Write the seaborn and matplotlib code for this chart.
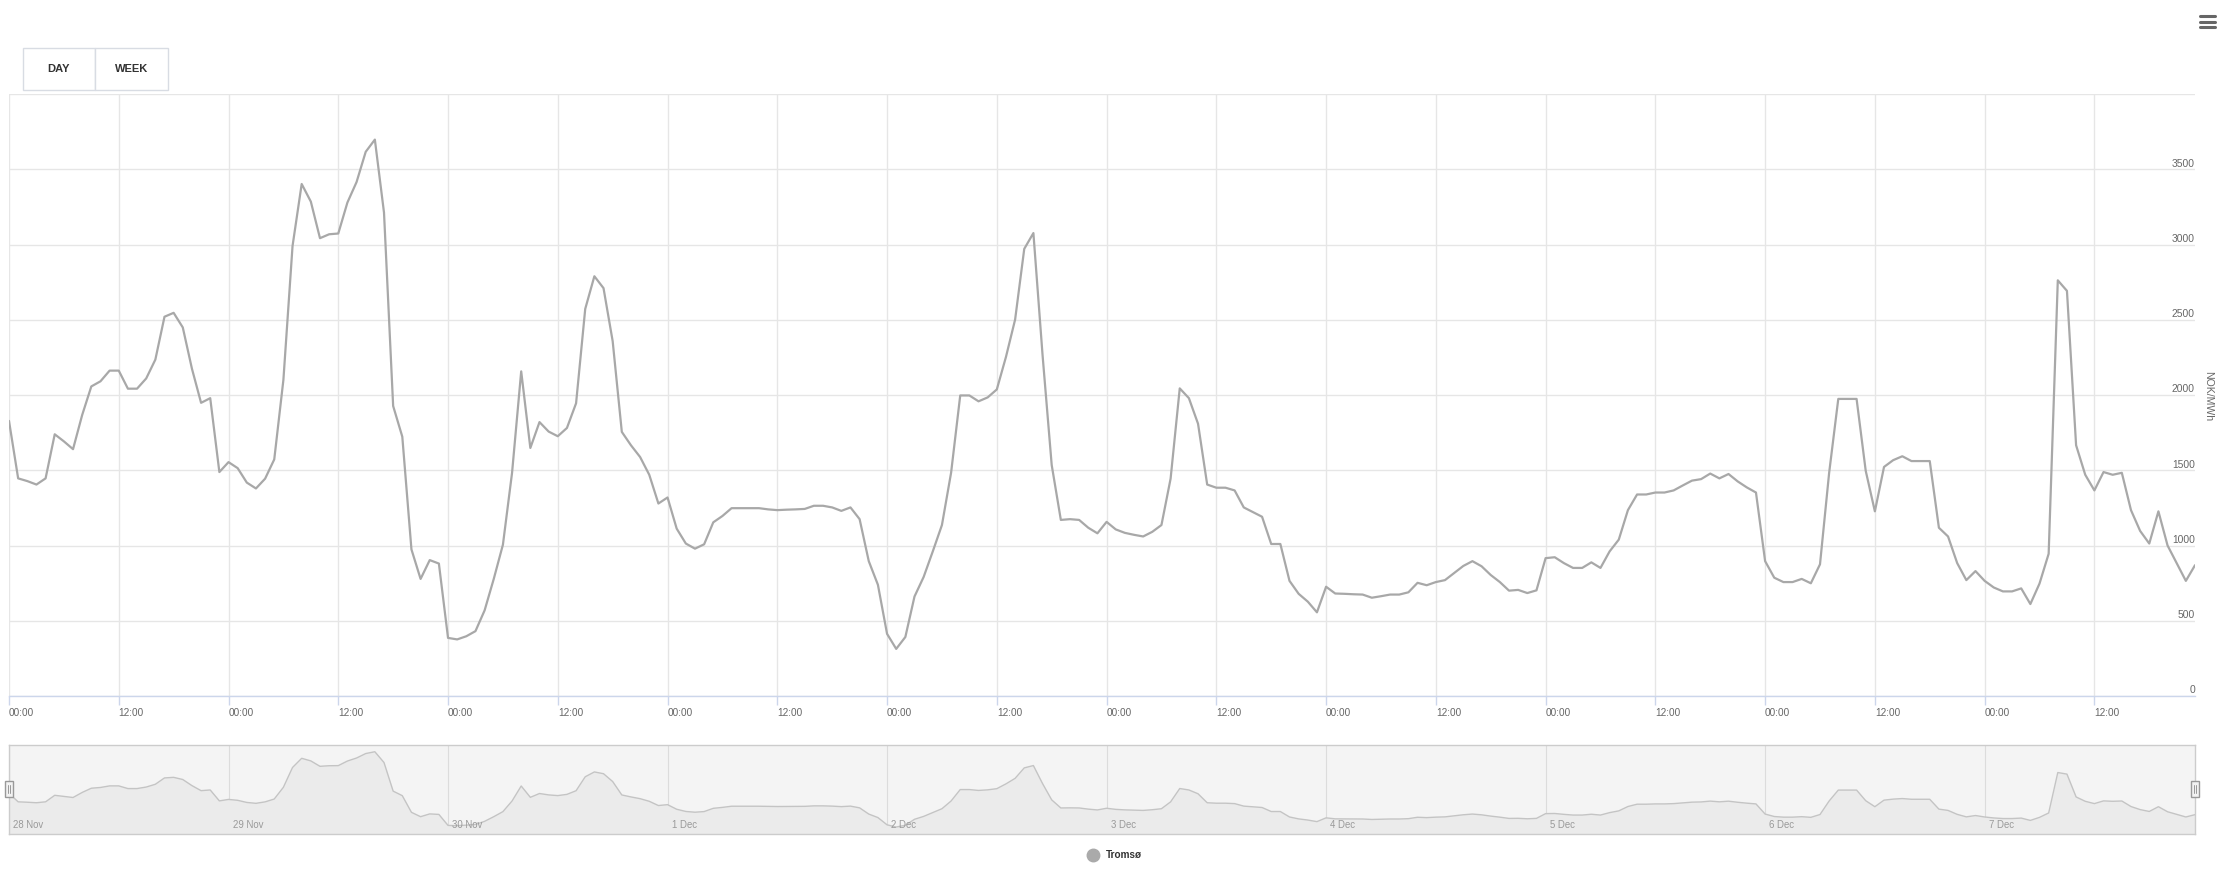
import numpy as np
import pandas as pd
import matplotlib
matplotlib.use('Agg')
import matplotlib.pyplot as plt
import matplotlib.transforms as mtransforms
from matplotlib.patches import Rectangle
from matplotlib.lines import Line2D
import seaborn as sns

# Hourly prices (NOK/MWh), Tromsø, one list per day
nov28 = [1828, 1446, 1428, 1405, 1446, 1739, 1692, 1640, 1867, 2057, 2091, 2162,
         2162, 2042, 2042, 2110, 2235, 2520, 2546, 2449, 2175, 1948, 1979, 1488]
nov29 = [1554, 1514, 1418, 1379, 1444, 1572, 2100, 2990, 3402, 3285, 3042, 3068,
         3073, 3279, 3415, 3616, 3697, 3212, 1927, 1723, 974, 778, 903, 880]
nov30 = [386, 376, 397, 431, 569, 778, 1005, 1483, 2157, 1648, 1820, 1757,
         1726, 1781, 1945, 2572, 2789, 2710, 2358, 1755, 1666, 1588, 1470, 1279]
dec01 = [1319, 1112, 1013, 979, 1008, 1154, 1196, 1248, 1248, 1248, 1248, 1240,
         1235, 1238, 1240, 1243, 1264, 1264, 1253, 1230, 1253, 1175, 896, 739]
dec02 = [413, 313, 392, 661, 791, 961, 1136, 1483, 1997, 1997, 1958, 1984,
         2037, 2253, 2501, 2971, 3076, 2266, 1535, 1170, 1175, 1170, 1118, 1081]
dec03 = [1157, 1107, 1084, 1071, 1060, 1091, 1136, 1444, 2044, 1979, 1809, 1405,
         1384, 1384, 1366, 1253, 1222, 1191, 1010, 1010, 765, 679, 627, 556]
dec04 = [726, 681, 679, 676, 674, 653, 663, 674, 674, 689, 752, 736,
         757, 770, 817, 864, 896, 862, 804, 757, 700, 705, 684, 702]
dec05 = [916, 922, 883, 851, 851, 888, 851, 961, 1039, 1235, 1339, 1339,
         1352, 1352, 1366, 1399, 1431, 1441, 1478, 1446, 1475, 1426, 1386, 1352]
dec06 = [896, 786, 757, 757, 778, 749, 875, 1483, 1974, 1974, 1974, 1496,
         1227, 1522, 1567, 1593, 1561, 1561, 1561, 1118, 1060, 883, 770, 830]
dec07 = [765, 721, 695, 695, 715, 611, 747, 945, 2762, 2692, 1666, 1470,
         1366, 1488, 1470, 1483, 1235, 1097, 1013, 1227, 1000, 883, 765, 869]

day_labels = ['28 Nov', '29 Nov', '30 Nov', '1 Dec', '2 Dec',
              '3 Dec', '4 Dec', '5 Dec', '6 Dec', '7 Dec']
time_labels = ['00:00', '12:00']
y_ticks = [0, 500, 1000, 1500, 2000, 2500, 3000, 3500, 4000]
series_name = 'Tromsø'
y_title = 'NOK/MWh'

prices = nov28 + nov29 + nov30 + dec01 + dec02 + dec03 + dec04 + dec05 + dec06 + dec07
df = pd.DataFrame({'hour': np.arange(len(prices)), 'price': prices})

sns.set_style('white')
plt.rcParams['font.family'] = ['Liberation Sans', 'DejaVu Sans']

W, H = 2229, 891
fig = plt.figure(figsize=(W / 100, H / 100), dpi=100)


def fx(x):
    return x / W


def fy(y):
    return 1 - y / H


left, right, top, bottom = 9, 2195, 94, 696
grid_c = '#e6e6e6'
axis_c = '#ccd6eb'
label_c = '#666666'

# main chart
ax = fig.add_axes([fx(left), fy(bottom), (right - left) / W, (bottom - top) / H])
sns.lineplot(data=df, x='hour', y='price', ax=ax, color='#a8a8a8', linewidth=1.6)
ax.set_xlim(0, len(prices) - 1)
ax.set_ylim(0, 4000)
ax.set_xlabel('')
ax.set_ylabel('')
ax.set_yticks(y_ticks)
xt = list(range(0, len(prices), 12))
ax.set_xticks(xt)
ax.set_xticklabels([time_labels[(h // 12) % 2] for h in xt])
ax.grid(True, color=grid_c, linewidth=1)
ax.set_axisbelow(True)
for s in ['top', 'right', 'left']:
    ax.spines[s].set_visible(False)
ax.spines['bottom'].set_color(axis_c)
ax.spines['bottom'].set_linewidth(1)
ax.tick_params(axis='y', length=0, labelleft=False)
ax.tick_params(axis='x', length=6.5, width=1, color=axis_c, labelsize=7.2,
               labelcolor=label_c, pad=2, direction='out', bottom=True)
for lbl in ax.get_xticklabels():
    lbl.set_horizontalalignment('left')

trans = mtransforms.blended_transform_factory(ax.transAxes, ax.transData)
for v in y_ticks[:-1]:
    ax.text(1.0, v + 4, str(v), transform=trans, ha='right', va='bottom',
            fontsize=7.4, color=label_c)

fig.text(fx(2208), fy(396), y_title, rotation=-90, ha='center', va='center',
         fontsize=7.6, color=label_c)

# navigator
nt, nb = 745, 834
nav = fig.add_axes([fx(left), fy(nb), (right - left) / W, (nb - nt) / H])
nav.set_facecolor('#f4f4f4')
nav.fill_between(df['hour'], df['price'], color='#ebebeb', linewidth=0)
sns.lineplot(data=df, x='hour', y='price', ax=nav, color='#c4c4c4', linewidth=1)
nav.set_xlim(0, len(prices) - 1)
nav.set_ylim(0, 4000)
nav.set_xlabel('')
nav.set_ylabel('')
nav.set_xticks(list(range(0, len(prices), 24)))
nav.set_yticks([])
nav.grid(True, axis='x', color='#dcdcdc', linewidth=0.8)
nav.tick_params(length=0, labelbottom=False, labelleft=False)
for s in nav.spines.values():
    s.set_color('#cccccc')
    s.set_linewidth(1)
ntrans = mtransforms.blended_transform_factory(nav.transData, nav.transAxes)
for i, lab in enumerate(day_labels):
    nav.text(i * 24 + 0.45, 0.1, lab, transform=ntrans, ha='left', va='center',
             fontsize=6.9, color='#999999')

# navigator handles
for hx in [left, right]:
    fig.add_artist(Rectangle((fx(hx - 4), fy(797)), 8 / W, 16 / H, transform=fig.transFigure,
                             facecolor='#f2f2f2', edgecolor='#999999', linewidth=1, zorder=10))
    for dx in [-1, 1]:
        fig.add_artist(Line2D([fx(hx + dx), fx(hx + dx)], [fy(785), fy(793)],
                              transform=fig.transFigure, color='#999999', linewidth=0.7, zorder=11))

# range buttons
for x0, x1, txt in [(23, 95, 'DAY'), (95, 168, 'WEEK')]:
    fig.add_artist(Rectangle((fx(x0), fy(90)), (x1 - x0) / W, 42 / H, transform=fig.transFigure,
                             facecolor='white', edgecolor='#d8dce3', linewidth=1))
    fig.text(fx((x0 + x1) / 2), fy(69), txt, ha='center', va='center',
             fontsize=8, fontweight='bold', color='#333333')

# export menu icon
for yy in [16, 21.5, 27]:
    fig.add_artist(Line2D([fx(2200), fx(2215)], [fy(yy), fy(yy)], transform=fig.transFigure,
                          color='#666666', linewidth=2.2, solid_capstyle='round'))

# legend
fig.add_artist(Line2D([fx(1093)], [fy(855)], transform=fig.transFigure, marker='o',
                      markersize=9, color='#aaaaaa', linestyle='none'))
fig.text(fx(1106), fy(855), series_name, ha='left', va='center', fontsize=7.2,
         fontweight='bold', color='#333333')

fig.savefig('out.png', dpi=100)
